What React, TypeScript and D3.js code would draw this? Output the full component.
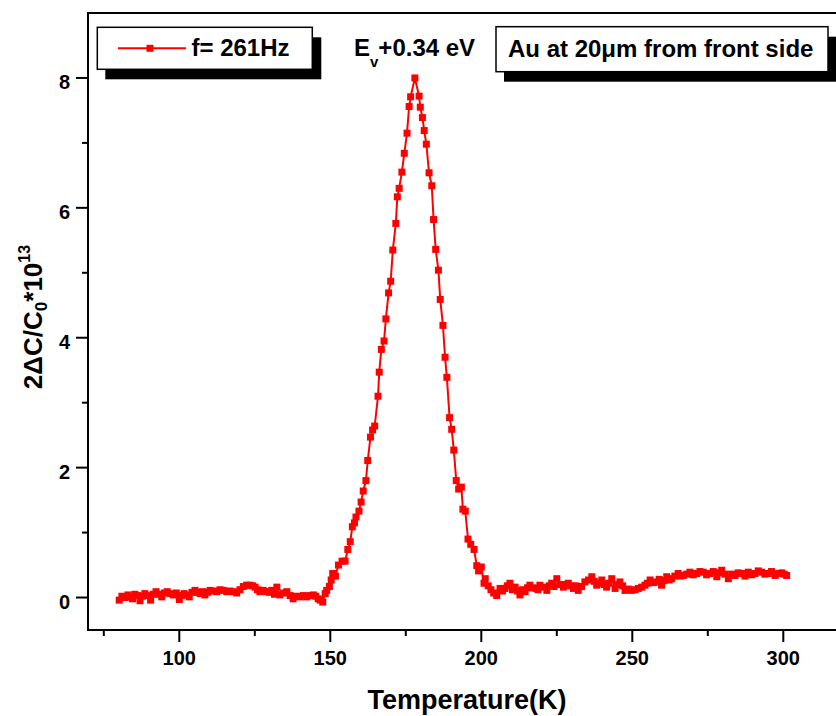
import React from "react";
import * as d3 from "d3";

const temps = [
  80.1, 81.0, 82.0, 83.0, 83.7, 84.5, 85.3, 86.2, 87.0, 87.8, 88.6, 89.5, 90.5, 91.4, 92.3, 93.2, 94.2, 95.1, 96.0, 97.0,
  98.0, 99.0, 100.0, 100.8, 101.6, 102.5, 103.3, 104.2, 105.2, 106.0, 106.9, 107.7, 108.5, 109.4, 110.2, 111.3, 112.4,
  113.5, 114.6, 115.7, 116.8, 117.9, 119.0, 120.1, 121.2, 122.3, 123.4, 124.3, 125.1, 125.9, 126.7, 127.8, 128.9, 129.8,
  130.6, 131.5, 132.3, 133.3, 134.5, 135.6, 136.7, 137.7, 138.8, 140.0, 141.1, 142.2, 143.3, 144.4, 145.2, 146.0, 146.7,
  147.5, 148.3, 148.8, 149.7, 150.3, 150.8, 151.7, 152.7, 153.9, 154.9, 155.8, 156.6, 157.3, 158.0, 158.5, 159.5, 160.2,
  160.9, 161.8, 162.4, 163.3, 164.0, 164.7, 165.8, 166.2, 166.9, 167.8, 168.4, 169.3, 170.0, 170.7, 171.7, 172.2, 172.8,
  173.7, 174.5, 175.4, 176.1, 176.6, 178.0, 179.4, 179.8, 180.5, 181.1, 181.8, 182.7, 183.6, 184.2, 184.9, 185.8, 186.4,
  187.3, 188.0, 188.6, 189.5, 190.2, 190.9, 191.7, 192.5, 193.4, 193.9, 194.7, 195.6, 196.5, 197.6, 198.5, 199.1, 200.0,
  200.9, 201.3, 202.3, 203.2, 204.1, 205.1, 206.2, 207.0, 207.8, 208.6, 209.5, 210.3, 211.2, 212.0, 212.8, 213.6, 214.5,
  215.3, 216.1, 217.1, 218.1, 218.8, 219.4, 220.5, 221.7, 222.5, 223.3, 224.1, 225.0, 226.1, 227.2, 228.0, 228.8, 229.6,
  230.5, 231.3, 232.1, 233.2, 234.3, 235.5, 236.6, 237.4, 238.2, 239.0, 239.9, 240.7, 241.5, 242.3, 243.2, 244.3, 245.1,
  245.9, 246.8, 247.6, 248.7, 249.8, 250.9, 252.0, 253.1, 254.2, 255.0, 255.9, 257.0, 258.1, 258.9, 259.7, 260.5, 261.4,
  262.2, 263.0, 264.1, 265.2, 266.0, 266.9, 268.0, 269.1, 270.2, 271.3, 272.4, 273.5, 274.6, 275.7, 276.8, 278.0, 278.8,
  279.6, 280.7, 281.8, 282.9, 284.0, 285.1, 286.2, 287.3, 288.4, 289.5, 290.6, 291.7, 292.8, 293.9, 295.0, 296.1, 297.3,
  298.4, 299.5, 300.3, 301.1,
];

const signal = [
  -0.04, 0.02, 0.0, 0.04, 0.01, -0.02, 0.05, 0.03, -0.05, 0.02, 0.06, 0.03, -0.04, 0.05, 0.09, 0.05, 0.01, 0.07, 0.09, 0.06,
  0.04, 0.07, -0.03, 0.03, 0.06, 0.04, 0.01, 0.08, 0.11, 0.08, 0.06, 0.09, 0.04, 0.08, 0.11, 0.1, 0.09,
  0.12, 0.11, 0.09, 0.1, 0.09, 0.07, 0.12, 0.17, 0.19, 0.19, 0.18, 0.16, 0.12, 0.09, 0.11, 0.09, 0.08,
  0.11, 0.05, 0.16, 0.04, 0.07, 0.09, 0.03, -0.02, 0.02, 0.01, 0.03, 0.01, 0.03, 0.04, 0.02, -0.02, -0.04,
  -0.07, 0.06, 0.11, 0.17, 0.27, 0.37, 0.33, 0.5, 0.56, 0.56, 0.74, 0.86, 1.09, 1.15, 1.24, 1.33, 1.47,
  1.64, 1.8, 2.11, 2.47, 2.58, 2.64, 3.1, 3.47, 3.82, 3.95, 4.29, 4.69, 4.87, 5.35, 5.76, 6.17, 6.3,
  6.55, 6.84, 7.15, 7.56, 7.71, 8.0, 7.72, 7.55, 7.39, 7.19, 6.98, 6.54, 6.34, 5.82, 5.36, 5.04, 4.59,
  4.19, 3.7, 3.39, 2.77, 2.59, 2.27, 1.8, 1.67, 1.7, 1.36, 1.33, 0.9, 0.82, 0.74, 0.49, 0.41, 0.47,
  0.22, 0.29, 0.18, 0.12, 0.07, 0.03, 0.14, 0.1, 0.14, 0.18, 0.22, 0.12, 0.16, 0.1, 0.04, 0.12, 0.09,
  0.15, 0.19, 0.15, 0.14, 0.12, 0.19, 0.16, 0.11, 0.18, 0.22, 0.17, 0.29, 0.2, 0.16, 0.2, 0.22, 0.18,
  0.14, 0.18, 0.11, 0.17, 0.24, 0.27, 0.32, 0.25, 0.19, 0.22, 0.27, 0.2, 0.16, 0.22, 0.29, 0.14, 0.2,
  0.24, 0.18, 0.11, 0.13, 0.11, 0.12, 0.14, 0.16, 0.19, 0.22, 0.27, 0.23, 0.24, 0.28, 0.19, 0.26, 0.32,
  0.27, 0.29, 0.33, 0.37, 0.33, 0.34, 0.36, 0.39, 0.35, 0.37, 0.4, 0.39, 0.35, 0.37, 0.4, 0.32, 0.38,
  0.42, 0.36, 0.29, 0.36, 0.34, 0.38, 0.37, 0.33, 0.39, 0.35, 0.37, 0.41, 0.39, 0.36, 0.37, 0.4, 0.34,
  0.37, 0.38, 0.36, 0.34,
];

const xMajorTicks = [100, 150, 200, 250, 300];
const xMinorTicks = [75, 125, 175, 225, 275, 325];
const yMajorTicks = [0, 2, 4, 6, 8];
const yMinorTicks = [1, 3, 5, 7];

const legendLabel = "f= 261Hz";
const annotationLabel = "Au at 20\u03bcm from front side";
const xTitle = "Temperature(K)";

const W = 836;
const H = 716;
const FONT = "'Liberation Sans', Arial, Helvetica, sans-serif";
const RED = "#ff0000";

export default function App() {
  const x = d3.scaleLinear().domain([70, 320]).range([88.7, 843.7]);
  const y = d3.scaleLinear().domain([-0.5, 9]).range([630, 13]);
  const data = temps.map((t, i) => ({ t, v: signal[i] }));
  const line = d3
    .line<{ t: number; v: number }>()
    .x((d) => x(d.t))
    .y((d) => y(d.v));

  const left = 88;
  const top = 13;
  const bottom = 630;
  const right = 845;
  const ms = 7;

  return (
    <svg
      width={W}
      height={H}
      style={{ position: "absolute", left: 0, top: 0, background: "#fff" }}
      fontFamily={FONT}
    >
      <rect x={0} y={0} width={W} height={H} fill="#fff" />
      {/* data */}
      <path d={line(data) || ""} fill="none" stroke={RED} strokeWidth={2} />
      {data.map((d, i) => (
        <rect key={i} x={x(d.t) - ms / 2} y={y(d.v) - ms / 2} width={ms} height={ms} fill={RED} />
      ))}

      {/* frame */}
      <rect x={left} y={top} width={right - left} height={bottom - top} fill="none" stroke="#000" strokeWidth={2} />

      {/* x ticks */}
      {xMajorTicks.map((t) => (
        <g key={"xm" + t}>
          <line x1={x(t)} x2={x(t)} y1={bottom} y2={bottom + 12} stroke="#000" strokeWidth={2} />
          <text x={x(t)} y={665} textAnchor="middle" fontSize={20} fontWeight="bold">
            {t}
          </text>
        </g>
      ))}
      {xMinorTicks.map((t) => (
        <line key={"xn" + t} x1={x(t)} x2={x(t)} y1={bottom} y2={bottom + 6} stroke="#000" strokeWidth={2} />
      ))}
      {/* y ticks */}
      {yMajorTicks.map((t) => (
        <g key={"ym" + t}>
          <line x1={left} x2={left - 12} y1={y(t)} y2={y(t)} stroke="#000" strokeWidth={2} />
          <text x={70} y={y(t) + 11} textAnchor="end" fontSize={20} fontWeight="bold">
            {t}
          </text>
        </g>
      ))}
      {yMinorTicks.map((t) => (
        <line key={"yn" + t} x1={left} x2={left - 6} y1={y(t)} y2={y(t)} stroke="#000" strokeWidth={2} />
      ))}

      {/* axis titles */}
      <text x={467} y={709} textAnchor="middle" fontSize={27} fontWeight="bold">
        {xTitle}
      </text>
      <text transform="translate(42,317) rotate(-90)" textAnchor="middle" fontSize={26} fontWeight="bold">
        <tspan>2ΔC/C</tspan>
        <tspan fontSize={17} dy={5}>0</tspan>
        <tspan dy={-5}>*10</tspan>
        <tspan fontSize={16} dy={-12}>13</tspan>
      </text>

      {/* legend box */}
      <rect x={105.3} y={37.3} width={216} height={42} fill="#000" />
      <rect x={97.3} y={27.3} width={215} height={42} fill="#fff" stroke="#000" strokeWidth={1.5} />
      <line x1={118} x2={186} y1={48.3} y2={48.3} stroke={RED} strokeWidth={2} />
      <rect x={150 - ms / 2} y={48.3 - ms / 2} width={ms} height={ms} fill={RED} />
      <text x={191.5} y={56} fontSize={24} fontWeight="bold">
        {legendLabel}
      </text>

      {/* energy label */}
      <text x={354} y={56} fontSize={24} fontWeight="bold">
        <tspan>E</tspan>
        <tspan fontSize={15} dy={11}>v</tspan>
        <tspan dy={-11}>+0.34 eV</tspan>
      </text>

      {/* annotation box */}
      <rect x={504} y={36.7} width={332} height={45} fill="#000" />
      <rect x={496} y={26.7} width={332} height={45} fill="#fff" stroke="#000" strokeWidth={1.5} />
      <text x={508} y={57} fontSize={24} fontWeight="bold">
        {annotationLabel}
      </text>
    </svg>
  );
}
